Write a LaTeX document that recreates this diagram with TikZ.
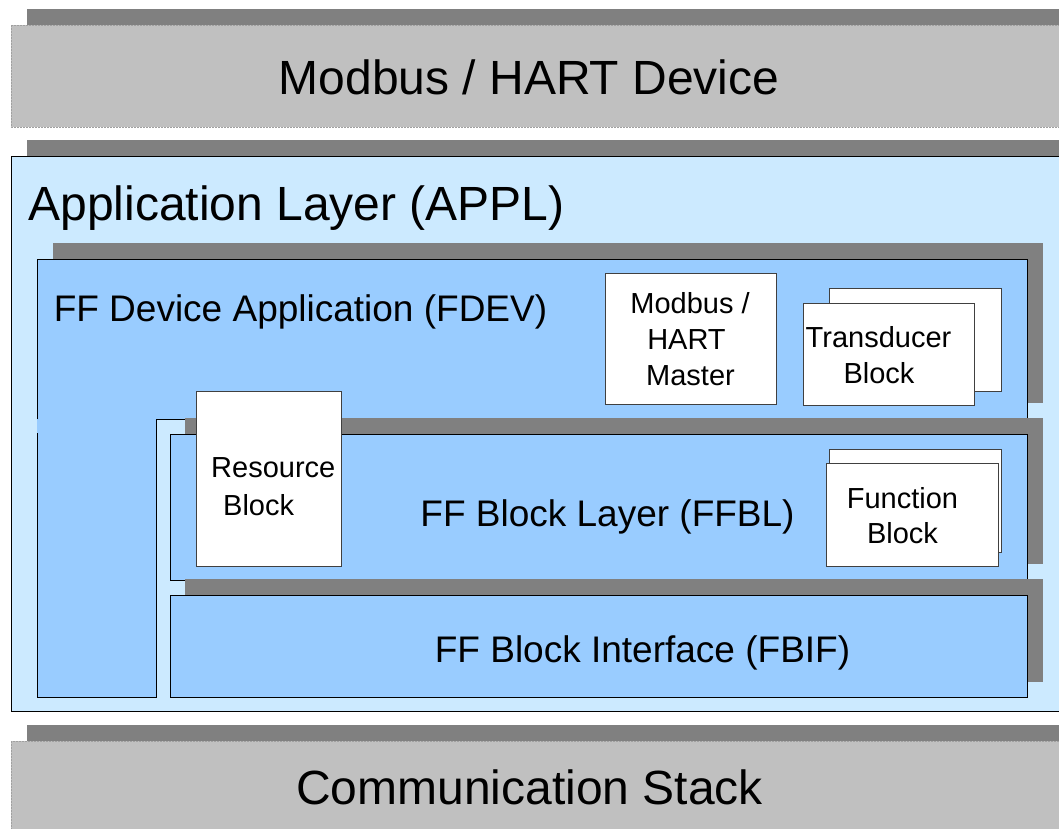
\documentclass[tikz,border=0pt]{standalone}
\usepackage{fontspec}
\setmainfont{Liberation Sans}
\definecolor{shd}{HTML}{808080}
\definecolor{grayfill}{HTML}{C0C0C0}
\definecolor{grayline}{HTML}{A0A0A0}
\definecolor{applfill}{HTML}{CCEAFF}
\definecolor{devfill}{HTML}{99CCFF}
\definecolor{boxline}{HTML}{404040}
\begin{document}
\begin{tikzpicture}[x=1pt,y=-1pt,
  shadowbox/.style={fill=shd, draw=none},
  graybox/.style={fill=grayfill, draw=grayline, dash pattern=on 2pt off 1pt, line width=0.8pt},
  applbox/.style={fill=applfill, draw=black, line width=1pt},
  devbox/.style={fill=devfill, draw=black, line width=1pt},
  whitebox/.style={fill=white, draw=boxline, line width=1pt},
  bigtext/.style={inner sep=0pt, anchor=base, font=\fontsize{48}{58}\selectfont},
  midtext/.style={inner sep=0pt, anchor=base, font=\fontsize{37}{44}\selectfont},
  smalltext/.style={inner sep=0pt, anchor=base, font=\fontsize{29}{36}\selectfont},
  smallwest/.style={inner sep=0pt, anchor=base west, font=\fontsize{29}{36}\selectfont}
]
\useasboundingbox (0,0) rectangle (1059,828);
\clip (0,0) rectangle (1059,828);
\fill[white] (0,0) rectangle (1059,828);

% Modbus / HART Device
\fill[shadowbox] (27,9) rectangle (1080,111);
\draw[graybox] (11,25) rectangle (1080,127);
\node[bigtext] (dev) at (529,94) {Modbus / HART Device};

% Application layer
\fill[shadowbox] (27,140) rectangle (1080,700);
\draw[applbox] (11,156) rectangle (1080,711);
\node[bigtext] (appl) at (296.5,220) {Application Layer (APPL)};

% FF Device Application
\fill[shadowbox] (53,243) rectangle (1043,403);
\fill[devfill] (37,259) -- (1027,259) -- (1027,419) -- (156,419) -- (156,697) -- (37,697) -- cycle;
\draw[black, line width=1pt] (37,419) -- (37,259) -- (1027,259) -- (1027,419) -- (156,419) -- (156,697) -- (37,697) -- (37,433);
\node[midtext] (fdev) at (300.5,321) {FF Device Application (FDEV)};

% FF Block Layer
\fill[shadowbox] (185,418) rectangle (1043,564);
\draw[devbox] (170,434) rectangle (1027,580);
\node[midtext] (ffbl) at (607.5,526) {FF Block Layer (FFBL)};

% FF Block Interface
\fill[shadowbox] (185,579) rectangle (1043,682);
\draw[devbox] (170,595) rectangle (1027,697);
\node[midtext] (fbif) at (642.5,662) {FF Block Interface (FBIF)};

% Resource Block
\draw[whitebox] (196,391) rectangle (341,566);
\node[smallwest] (res1) at (211,477) {Resource};
\node[smallwest] (res2) at (223,515) {Block};

% Modbus / HART Master
\draw[whitebox] (605,273) rectangle (776,404);
\node[smalltext] (mm1) at (690,313) {Modbus /};
\node[smalltext] (mm2) at (686.5,349) {HART};
\node[smalltext] (mm3) at (690.5,385) {Master};

% Transducer Block
\draw[whitebox] (829,288) rectangle (1001,391);
\draw[whitebox] (803,303) rectangle (974,405);
\node[smalltext] (tb1) at (878.5,347) {Transducer};
\node[smalltext] (tb2) at (879,383) {Block};

% Function Block
\draw[whitebox] (829,449) rectangle (1001,552);
\draw[whitebox] (826,463) rectangle (998,566);
\node[smalltext] (fb1) at (902.5,508) {Function};
\node[smalltext] (fb2) at (902.5,543) {Block};

% Communication Stack
\fill[shadowbox] (27,725) rectangle (1080,850);
\draw[graybox] (11,741) rectangle (1080,850);
\node[bigtext] (comm) at (529.5,804) {Communication Stack};
\end{tikzpicture}
\end{document}
